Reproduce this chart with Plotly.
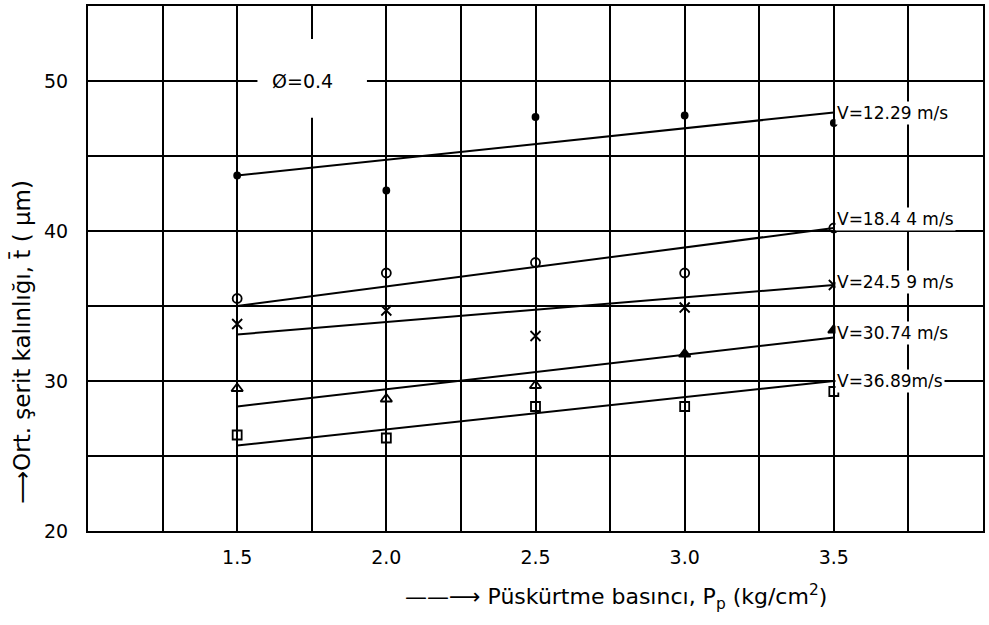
import plotly.graph_objects as go

# ---- data ----
pressure = [1.5, 2.0, 2.5, 3.0, 3.5]
velocity_labels = ["V=12.29 m/s", "V=18.4 4 m/s", "V=24.5 9 m/s", "V=30.74 m/s", "V=36.89m/s"]
t_v1229 = [43.7, 42.7, 47.6, 47.7, 47.2]
t_v1844 = [35.5, 37.2, 37.9, 37.2, 40.2]
t_v2459 = [33.8, 34.7, 33.0, 34.9, 36.4]
t_v3074 = [29.5, 28.8, 29.7, 31.8, 33.4]
t_v3689 = [26.4, 26.2, 28.3, 28.3, 29.3]
fit_x = [1.5, 3.5]
fit_v1229 = [43.7, 47.9]
fit_v1844 = [35.0, 40.2]
fit_v2459 = [33.1, 36.4]
fit_v3074 = [28.3, 32.9]
fit_v3689 = [25.7, 30.0]
label_y = [47.9, 40.8, 36.6, 33.2, 30.0]

x_ticks = [1.5, 2.0, 2.5, 3.0, 3.5]
x_ticktext = ["1.5", "2.0", "2.5", "3.0", "3.5"]
y_ticks = [20, 30, 40, 50]
y_ticktext = ["20", "30", "40", "50"]

series = [t_v1229, t_v1844, t_v2459, t_v3074, t_v3689]
fits = [fit_v1229, fit_v1844, fit_v2459, fit_v3074, fit_v3689]
symbols = [
    "circle",
    "circle-open",
    "x-thin-open",
    ["triangle-up-open", "triangle-up-open", "triangle-up-open", "triangle-up", "triangle-up"],
    "square-open",
]
sizes = [6, 9, 10, 10, 9]

FONT = "DejaVu Sans"
fig = go.Figure()

for fy in fits:
    fig.add_trace(go.Scatter(x=fit_x, y=fy, mode="lines",
                             line=dict(color="black", width=2), showlegend=False,
                             hoverinfo="skip"))

for ys, sym, sz in zip(series, symbols, sizes):
    fig.add_trace(go.Scatter(x=pressure, y=ys, mode="markers",
                             marker=dict(symbol=sym, size=sz, color="black",
                                         line=dict(color="black", width=1.8)),
                             showlegend=False))

for txt, ly in zip(velocity_labels, label_y):
    fig.add_annotation(x=fit_x[-1], y=ly, xref="x", yref="y", text=txt,
                       showarrow=False, xanchor="left", yanchor="middle", xshift=1,
                       font=dict(family=FONT, size=17, color="black"),
                       bgcolor="white", borderpad=1)

# white box that interrupts the grid behind the parameter label
fig.add_shape(type="rect", xref="x", yref="y", x0=1.568, x1=1.935, y0=47.55, y1=52.8,
              fillcolor="white", line=dict(width=0), layer="above")
fig.add_annotation(x=1.72, y=50.0, xref="x", yref="y", text="Ø=0.4",
                   showarrow=False, xanchor="center", yanchor="middle",
                   font=dict(family=FONT, size=19, color="black"))

fig.add_annotation(xref="paper", yref="paper", x=-0.075, y=0.36,
                   text="⟶Ort. şerit kalınlığı, t\u0304 ( μm)", textangle=-90,
                   showarrow=False, xanchor="center", yanchor="middle",
                   font=dict(family=FONT, size=23, color="black"))
fig.add_annotation(xref="paper", yref="paper", x=0.59, y=-0.125,
                   text="——⟶ Püskürtme basıncı, P<sub>p</sub> (kg/cm<sup>2</sup>)",
                   showarrow=False, xanchor="center", yanchor="middle",
                   font=dict(family=FONT, size=22, color="black"))

grid_minor = dict(showgrid=True, gridcolor="black", gridwidth=2, ticks="")
fig.update_xaxes(range=[1.0, 4.0], tickvals=x_ticks, ticktext=x_ticktext,
                 showgrid=True, gridcolor="black", gridwidth=2,
                 minor=dict(dtick=0.25, tick0=1.0, **grid_minor),
                 showline=True, linecolor="black", linewidth=2, mirror=True,
                 zeroline=False, ticks="", ticklabelstandoff=8,
                 tickfont=dict(family=FONT, size=19, color="black"))
fig.update_yaxes(range=[20, 55], tickvals=y_ticks, ticktext=y_ticktext,
                 showgrid=True, gridcolor="black", gridwidth=2,
                 minor=dict(dtick=5, tick0=20, **grid_minor),
                 showline=True, linecolor="black", linewidth=2, mirror=True,
                 zeroline=False, ticks="", ticklabelstandoff=14,
                 tickfont=dict(family=FONT, size=19, color="black"))

fig.update_layout(width=989, height=625, margin=dict(l=88, r=4, t=5, b=94),
                  paper_bgcolor="white", plot_bgcolor="white", showlegend=False)

fig.write_html("out.html", config={"displayModeBar": False},
               post_script="document.body.style.margin='0';")
